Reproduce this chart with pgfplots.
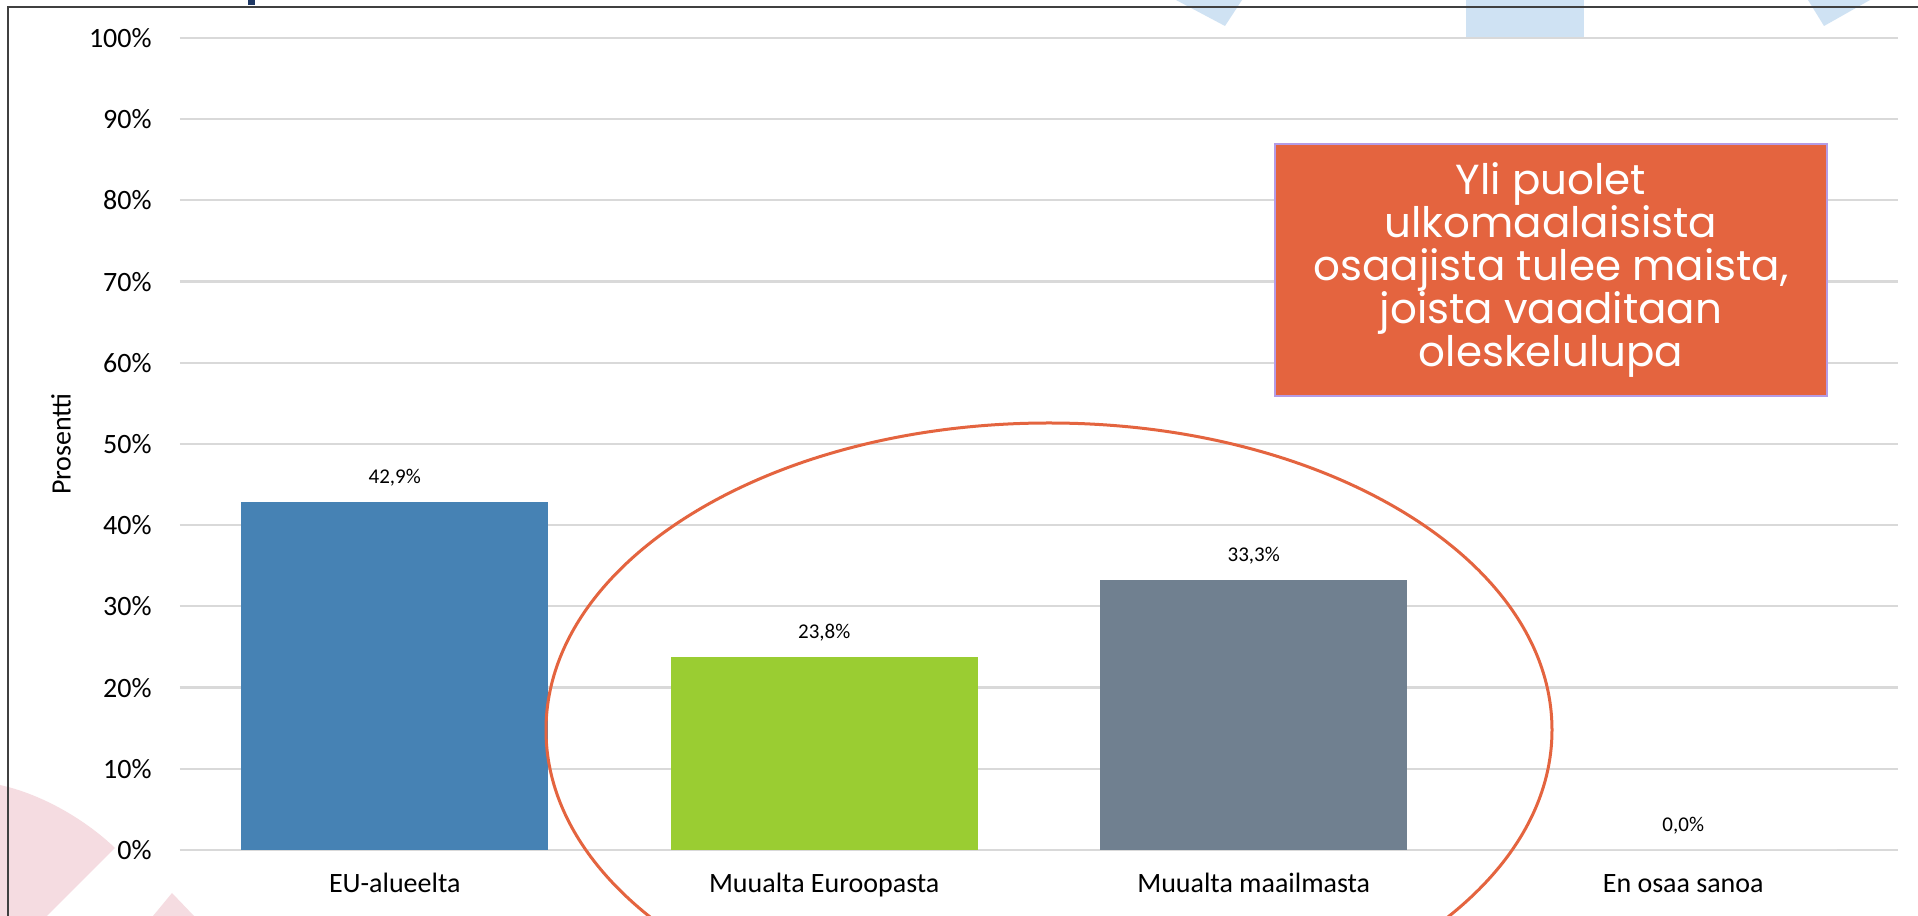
\documentclass[border=0pt]{standalone}
\usepackage{pgfplots}
\pgfplotsset{compat=1.18}
\usepackage{fontspec}
\setmainfont{Carlito}
\newfontfamily\boxfont{Poppins}
\definecolor{barblue}{HTML}{4682B4}
\definecolor{bargreen}{HTML}{9ACD32}
\definecolor{bargray}{HTML}{708090}
\definecolor{accent}{HTML}{E4643F}
\definecolor{gridc}{HTML}{D9D9D9}
\definecolor{pinkbg}{HTML}{F5DCE1}
\definecolor{bluebg}{HTML}{CFE2F3}
\definecolor{framec}{HTML}{404040}
\definecolor{boxborder}{HTML}{B49CE6}
\definecolor{navy}{HTML}{1F3864}
\begin{document}
\begin{tikzpicture}
\useasboundingbox (0,0) rectangle (959pt,458pt);
\clip (0,0) rectangle (959pt,458pt);
\fill[white] (0,0) rectangle (959pt,458pt);
% background decorations (px coordinates)
\begin{scope}[shift={(0pt,458pt)},x=0.5pt,y=-0.5pt]
  \fill[pinkbg] (0,785) .. controls (45,795) and (88,822) .. (115,848) -- (47,916) -- (0,916) -- cycle;
  \fill[pinkbg] (172,893) -- (194,916) -- (153,916) -- cycle;
  \fill[bluebg] (1176,0) -- (1242,0) -- (1225,26) -- cycle;
  \fill[bluebg] (1466,0) rectangle (1584,37);
  \fill[bluebg] (1808,0) -- (1870,0) -- (1824,26) -- cycle;
  \fill[navy] (248,0) rectangle (255,5);
\end{scope}
\begin{axis}[
  at={(90pt,33pt)}, anchor=south west,
  scale only axis, width=859pt, height=406pt,
  ymin=0, ymax=100, xmin=-0.5, xmax=3.5,
  ytick={0,10,...,100},
  yticklabel={\pgfmathprintnumber{\tick}\%},
  xtick={0,1,2,3},
  xticklabels={EU-alueelta, Muualta Euroopasta, Muualta maailmasta, En osaa sanoa},
  /pgf/number format/assume math mode=true,
  ymajorgrids, grid style={gridc, line width=1.1pt},
  axis line style={draw=none},
  major tick length=0pt, tick style={draw=none},
  ticklabel style={font=\fontsize{14}{16}\selectfont},
  yticklabel style={anchor=east, inner sep=0pt, xshift=-14pt},
  xticklabel style={anchor=base, inner sep=0pt, yshift=-21.5pt},
  ylabel={Prosentti},
  every axis y label/.style={at={(axis description cs:-0.0693,0.5)}, rotate=90, anchor=center, font=\fontsize{14}{16}\selectfont},
  ybar, bar width=0.715,
  nodes near coords={\pgfmathprintnumber[fixed,fixed zerofill,precision=1,use comma]{\pgfplotspointmeta}\%},
  every node near coord/.append style={anchor=base, yshift=9pt, inner sep=0pt, font=\fontsize{10.5}{12}\selectfont, text=black},
  clip=false,
]
\addplot[fill=barblue, draw=none, bar shift=0pt] coordinates {(0,42.9)};
\addplot[fill=bargreen, draw=none, bar shift=0pt] coordinates {(1,23.8)};
\addplot[fill=bargray, draw=none, bar shift=0pt] coordinates {(2,33.3)};
\addplot[fill=white, draw=none, bar shift=0pt] coordinates {(3,0.0)};
\end{axis}
% annotations (px coordinates)
\begin{scope}[shift={(0pt,458pt)},x=0.5pt,y=-0.5pt]
  \draw[accent, line width=1.5pt] (1049,730) ellipse [x radius=503, y radius=307];
  \node[fill=accent, draw=boxborder, line width=0.8pt, minimum width=276pt, minimum height=126pt,
        inner sep=0pt, text=white, align=center,
        font=\boxfont\fontsize{21}{21.5}\selectfont] at (1551,270)
        {Yli puolet\\ulkomaalaisista\\osaajista tulee maista,\\joista vaaditaan\\oleskelulupa};
  \draw[framec, line width=1pt] (8,916) -- (8,7) -- (1918,7);
\end{scope}
\end{tikzpicture}
\end{document}
